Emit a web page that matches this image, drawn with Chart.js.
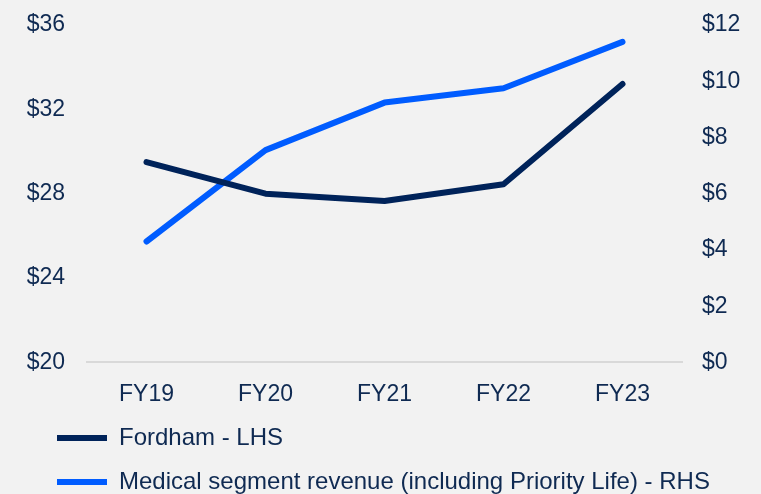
<!DOCTYPE html>
<html>
<head>
<meta charset="utf-8">
<script src="https://cdn.jsdelivr.net/npm/chart.js@4"></script>
<style>
    html, body { margin: 0; padding: 0; background: #f2f2f2; }
    #wrap { width: 761px; height: 494px; }
</style>
</head>
<body>
<div id="wrap"><canvas id="chart" width="761" height="494"></canvas></div>
<script>
// Data
const categories = ['FY19', 'FY20', 'FY21', 'FY22', 'FY23'];
const fordham = [29.5, 28.0, 27.65, 28.45, 33.2];
const medical = [4.3, 7.55, 9.24, 9.75, 11.4];
const leftTicks = [20, 24, 28, 32, 36];
const rightTicks = [0, 2, 4, 6, 8, 10, 12];

const textColor = '#0f2a52';
const navy = '#00235a';
const blue = '#005cff';

// nudge the legend to where the original sits
const legendShift = {
    id: 'legendShift',
    afterLayout(chart) {
        chart.legend.left += 10;
        chart.legend.top -= 20;
        chart.legend.bottom -= 20;
    }
};

// y axes: fixed width, no extra vertical padding from tick labels
const fixAxis = (width) => (scale) => {
    scale.width = width;
    scale.paddingTop = 0;
    scale.paddingBottom = 0;
};

const ctx = document.getElementById('chart').getContext('2d');
new Chart(ctx, {
    type: 'line',
    data: {
        labels: categories,
        datasets: [
            {
                label: 'Fordham - LHS',
                data: fordham,
                yAxisID: 'yL',
                borderColor: navy,
                backgroundColor: navy,
                borderWidth: 6,
                borderCapStyle: 'round',
                borderJoinStyle: 'round',
                pointRadius: 0,
                pointStyle: 'line',
                tension: 0
            },
            {
                label: 'Medical segment revenue (including Priority Life) - RHS',
                data: medical,
                yAxisID: 'yR',
                borderColor: blue,
                backgroundColor: blue,
                borderWidth: 6,
                borderCapStyle: 'round',
                borderJoinStyle: 'round',
                pointRadius: 0,
                pointStyle: 'line',
                tension: 0
            }
        ]
    },
    options: {
        responsive: false,
        animation: false,
        layout: { padding: { left: 27, right: 0, top: 25, bottom: -30 } },
        plugins: {
            tooltip: { enabled: false },
            legend: {
                position: 'bottom',
                align: 'start',
                labels: {
                    color: textColor,
                    font: { family: 'Liberation Sans, Arial, sans-serif', size: 24 },
                    usePointStyle: true,
                    pointStyleWidth: 50,
                    padding: 20
                }
            }
        },
        scales: {
            x: {
                offset: true,
                grid: { display: false, drawTicks: false, tickLength: 0 },
                border: { display: true, color: '#d9d9d9', width: 2 },
                ticks: {
                    color: textColor,
                    font: { family: 'Liberation Sans, Arial, sans-serif', size: 23 },
                    padding: 18,
                    maxRotation: 0
                }
            },
            yL: {
                position: 'left',
                min: 20,
                max: 36,
                afterBuildTicks(scale) { scale.ticks = leftTicks.map(v => ({ value: v })); },
                grid: { display: false, drawTicks: false, tickLength: 0 },
                border: { display: false },
                ticks: {
                    color: textColor,
                    font: { family: 'Liberation Sans, Arial, sans-serif', size: 23 },
                    padding: 22,
                    callback: v => '$' + v
                },
                afterFit: fixAxis(60)
            },
            yR: {
                position: 'right',
                min: 0,
                max: 12,
                afterBuildTicks(scale) { scale.ticks = rightTicks.map(v => ({ value: v })); },
                grid: { display: false, drawTicks: false, tickLength: 0 },
                border: { display: false },
                ticks: {
                    color: textColor,
                    font: { family: 'Liberation Sans, Arial, sans-serif', size: 23 },
                    padding: 20,
                    callback: v => '$' + v
                },
                afterFit: fixAxis(79)
            }
        }
    },
    plugins: [legendShift]
});
</script>
</body>
</html>
